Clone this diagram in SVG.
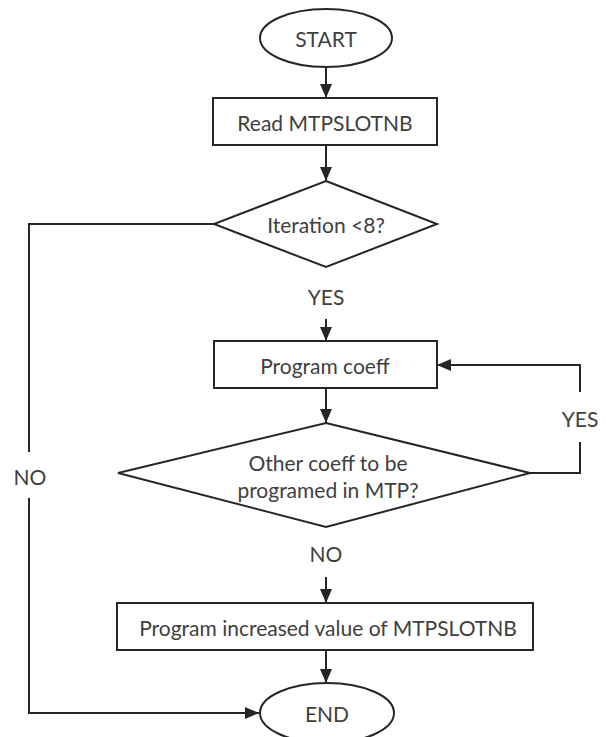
<svg xmlns="http://www.w3.org/2000/svg" width="606" height="737" viewBox="0 0 606 737">
<style>
.shape{fill:#ffffff;stroke:#262626;stroke-width:2}
.line{fill:none;stroke:#262626;stroke-width:2}
.t{font-family:Lato,"Open Sans","Liberation Sans",sans-serif;font-size:21px;fill:#404040;text-anchor:middle;dominant-baseline:central}
</style>
<defs>
<marker id="arr" viewBox="0 0 14 12" refX="14" refY="6" markerWidth="14" markerHeight="12" markerUnits="userSpaceOnUse" orient="auto">
<path d="M0,0 L14,6 L0,12 Z" fill="#262626"/>
</marker>
</defs>
<rect width="606" height="737" fill="#ffffff"/>
<g id="connectors">
<line class="line" x1="326" y1="67" x2="326" y2="98" marker-end="url(#arr)"/>
<line class="line" x1="326" y1="145" x2="326" y2="181" marker-end="url(#arr)"/>
<line class="line" x1="326" y1="319" x2="326" y2="341" marker-end="url(#arr)"/>
<line class="line" x1="326" y1="388" x2="326" y2="423" marker-end="url(#arr)"/>
<line class="line" x1="326" y1="577" x2="326" y2="603" marker-end="url(#arr)"/>
<line class="line" x1="326" y1="650" x2="326" y2="683" marker-end="url(#arr)"/>
<polyline class="line" points="214,224 29,224 29,452"/>
<polyline class="line" points="29,498 29,713 259,713" marker-end="url(#arr)"/>
<polyline class="line" points="530,473 580,473 580,442"/>
<polyline class="line" points="580,392 580,365 437,365" marker-end="url(#arr)"/>
<text class="t" x="326" y="296">YES</text>
<text class="t" x="326" y="553">NO</text>
<text class="t" x="30" y="476">NO</text>
<text class="t" x="580" y="418">YES</text>
</g>
<g id="start">
<ellipse class="shape" cx="326" cy="38" rx="66" ry="29"/>
<text class="t" x="326" y="38">START</text>
</g>
<g id="read">
<rect class="shape" x="213" y="98" width="224" height="47"/>
<text class="t" x="325" y="122">Read MTPSLOTNB</text>
</g>
<g id="iteration">
<polygon class="shape" points="326,181 437,224 326,267 214,224"/>
<text class="t" x="326" y="224">Iteration &lt;8?</text>
</g>
<g id="program">
<rect class="shape" x="214" y="341" width="223" height="47"/>
<text class="t" x="325" y="365">Program coeff</text>
</g>
<g id="other">
<polygon class="shape" points="326,423 530,473 326,527 118,473"/>
<text class="t" x="328" y="462">Other coeff to be</text>
<text class="t" x="328" y="489">programed in MTP?</text>
</g>
<g id="increase">
<rect class="shape" x="117" y="603" width="416" height="47"/>
<text class="t" x="328" y="627">Program increased value of MTPSLOTNB</text>
</g>
<g id="end">
<ellipse class="shape" cx="327" cy="713" rx="67" ry="30"/>
<text class="t" x="327" y="713">END</text>
</g>
</svg>
